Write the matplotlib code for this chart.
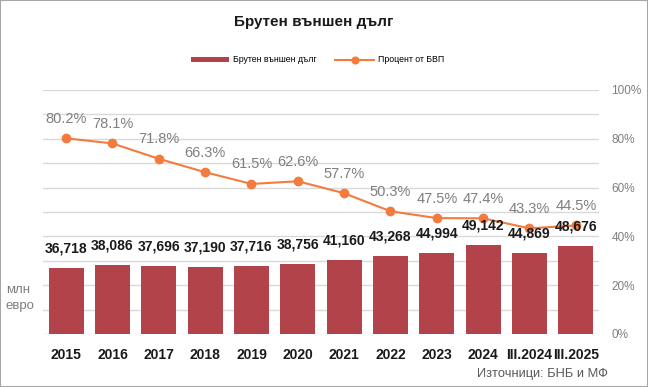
import matplotlib.pyplot as plt
import numpy as np

plt.rcParams['font.family'] = ['Liberation Sans', 'DejaVu Sans']

# data
years = ['2015', '2016', '2017', '2018', '2019', '2020', '2021', '2022',
         '2023', '2024', 'III.2024', 'III.2025']
debt = [36718, 38086, 37696, 37190, 37716, 38756, 41160, 43268,
        44994, 49142, 44869, 48676]
pct_gdp = [80.2, 78.1, 71.8, 66.3, 61.5, 62.6, 57.7, 50.3,
           47.5, 47.4, 43.3, 44.5]

bar_col = '#B3434A'
line_col = '#F47B3E'
grey = '#7F7F7F'

fig = plt.figure(figsize=(6.48, 3.87), dpi=100)
ax = fig.add_axes([43/648, (387-334)/387, (599-43)/648, (334-90)/387])
ax2 = ax.twinx()

x = np.arange(len(years))
ax.bar(x, debt, width=0.75, color=bar_col, zorder=2,
       label='Брутен външен дълг')

ax.set_ylim(0, 135000)
ax.set_yticks(np.arange(0, 135001, 13500))
ax.set_yticklabels([])
ax.tick_params(axis='y', length=0)
ax.grid(axis='y', color='#D9D9D9', lw=1, zorder=0)
ax.set_axisbelow(True)
ax.set_xlim(-0.5, len(years) - 0.5)
ax.set_xticks(x)
ax.set_xticklabels(years, fontsize=10, fontweight='bold', color='#1a1a1a')
ax.tick_params(axis='x', length=0, pad=10)
for s in ['top', 'right', 'left', 'bottom']:
    ax.spines[s].set_visible(False)
    ax2.spines[s].set_visible(False)

ax2.plot(x, pct_gdp, color=line_col, lw=1.5, marker='o', ms=6,
         label='Процент от БВП', zorder=3)
for xi, v in zip(x, pct_gdp):
    ax2.annotate(f'{v}%', (xi, v), xytext=(0, 9), textcoords='offset points',
                 ha='center', va='bottom', fontsize=10.5, color=grey, zorder=4)
# bar labels on top of the line
for xi, v in zip(x, debt):
    ax2.annotate(f'{v:,}', (xi, v), xycoords=ax.transData, xytext=(0, 9),
                 textcoords='offset points', ha='center', va='bottom',
                 fontsize=10, fontweight='bold', color='#1a1a1a', zorder=5)
ax2.set_ylim(0, 100)
ax2.set_yticks(range(0, 101, 20))
ax2.set_yticklabels([f'{t}%' for t in range(0, 101, 20)], fontsize=8.5, color=grey)
ax2.tick_params(axis='y', length=0, pad=9)

fig.text(6/648, 1 - 298/387, 'млн\nевро', fontsize=9.5, color=grey,
         ha='left', va='center', linespacing=1.5)

fig.text(314/648, 1 - 22/387, 'Брутен външен дълг', fontsize=11, fontweight='bold',
         ha='center', va='center', color='#1a1a1a')

h1, l1 = ax.get_legend_handles_labels()
h2, l2 = ax2.get_legend_handles_labels()
leg = fig.legend(h1 + h2, l1 + l2, loc='center', bbox_to_anchor=(0.49, 1 - 60/387),
                 ncol=2, frameon=False, fontsize=6.3, handlelength=4.4,
                 handleheight=0.4, handletextpad=0.5, columnspacing=2.1,
                 markerscale=0.8)

fig.text(608/648, 1 - 374/387, 'Източници: БНБ и МФ', fontsize=9.3,
         color='#595959', ha='right', va='center')

fig.patches.append(plt.Rectangle((0, 0), 1, 1, transform=fig.transFigure,
                                 fill=False, edgecolor='#A6A6A6', lw=1.5))

fig.savefig('out.png', dpi=100)
